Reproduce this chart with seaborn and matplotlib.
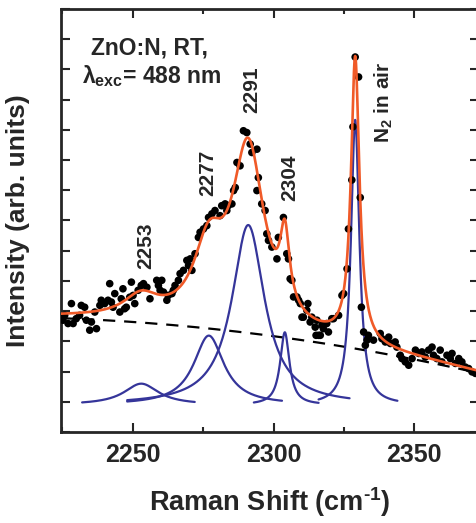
import numpy as np
import pandas as pd
import seaborn as sns
import matplotlib.pyplot as plt
from matplotlib.ticker import MultipleLocator, NullFormatter

# measured spectrum (Raman shift in cm-1, intensity in arb. units)
shift = [2225.8, 2225.2, 2227.0, 2228.2, 2228.8, 2229.9, 2231.1, 2231.7, 2232.9, 2233.5,
         2234.7, 2235.3, 2236.5, 2237.1, 2238.3, 2238.8, 2240.0, 2241.2, 2241.8, 2242.4,
         2243.0, 2243.6, 2245.4, 2245.9, 2246.5, 2247.1, 2247.7, 2248.9, 2249.5, 2250.1,
         2250.7, 2251.9, 2253.0, 2253.8, 2255.0, 2256.1, 2258.5, 2259.1, 2259.7, 2260.3,
         2260.9, 2262.1, 2262.6, 2263.9, 2264.4, 2265.0, 2266.2, 2266.8, 2268.0, 2269.2,
         2269.8, 2270.4, 2271.0, 2272.1, 2273.3, 2273.9, 2275.1, 2276.3, 2276.9, 2278.1,
         2279.2, 2281.0, 2281.6, 2282.8, 2283.4, 2283.9, 2285.2, 2285.8, 2286.4, 2287.0,
         2288.1, 2289.3, 2290.5, 2291.7, 2292.3, 2294.1, 2294.1, 2294.6, 2295.8, 2297.0,
         2297.6, 2298.2, 2299.4, 2301.2, 2301.7, 2303.5, 2304.7, 2305.3, 2305.9, 2306.5,
         2307.1, 2308.3, 2308.9, 2309.5, 2310.1, 2310.6, 2311.8, 2312.2, 2313.0, 2313.6,
         2314.8, 2315.1, 2315.4, 2316.0, 2316.6, 2317.2, 2317.7, 2318.9, 2319.5, 2320.7,
         2321.3, 2323.1, 2324.3, 2324.9, 2326.1, 2326.6, 2327.8, 2328.2, 2329.0, 2330.2,
         2330.8, 2331.2, 2332.0, 2332.6, 2333.2, 2333.7, 2335.5, 2337.9, 2338.5, 2339.7,
         2340.9, 2341.5, 2343.2, 2343.8, 2345.0, 2345.6, 2346.8, 2348.0, 2349.2, 2350.4,
         2351.6, 2352.7, 2353.9, 2355.1, 2356.3, 2356.8, 2358.0, 2359.2, 2359.8, 2361.6,
         2362.8, 2363.4, 2364.6, 2365.8, 2366.9, 2368.1, 2369.3, 2370.5, 2371.7]
intensity = [3.86, 3.70, 3.59, 4.25, 3.59, 3.75, 3.86, 4.19, 4.13, 3.70,
             3.37, 3.64, 3.97, 3.42, 4.19, 4.36, 4.25, 4.36, 4.91, 4.30,
             4.13, 4.58, 3.97, 4.41, 4.74, 4.08, 4.13, 4.46, 4.96, 4.52,
             4.25, 4.69, 4.85, 4.91, 4.79, 4.41, 5.02, 4.85, 4.69, 5.02,
             4.63, 4.36, 4.52, 4.58, 4.69, 4.85, 5.02, 5.24, 5.35, 5.68,
             5.51, 5.73, 5.35, 5.90, 6.44, 6.61, 6.72, 6.83, 7.10, 7.22,
             7.33, 7.16, 7.49, 7.55, 7.33, 7.49, 7.55, 7.99, 8.09, 8.92,
             8.81, 9.97, 9.91, 9.53, 9.25, 9.36, 7.99, 8.42, 7.55, 7.33,
             6.56, 6.34, 6.12, 5.73, 6.44, 7.10, 5.90, 5.73, 5.07, 5.02,
             4.47, 4.47, 4.36, 4.25, 3.80, 3.80, 4.03, 4.25, 3.64, 3.80,
             3.47, 3.20, 3.70, 3.20, 3.20, 3.53, 3.42, 3.59, 3.31, 3.75,
             3.75, 3.86, 4.52, 4.58, 5.40, 6.72, 8.34, 10.10, 12.41, 11.75,
             7.76, 4.13, 3.31, 2.87, 3.04, 3.20, 3.04, 3.26, 3.09, 2.98,
             3.14, 2.93, 2.98, 2.81, 2.54, 2.43, 2.32, 2.21, 2.43, 2.71,
             2.60, 2.65, 2.48, 2.71, 2.81, 2.54, 2.43, 2.71, 2.32, 2.54,
             2.43, 2.60, 2.27, 2.43, 2.32, 2.15, 2.10, 1.99, 1.94]

# Lorentzian fit components
peak_center = [2253, 2277, 2291, 2304, 2329]
peak_amp = [0.7, 2.29, 5.95, 2.4, 9.43]
peak_hwhm = [7.5, 6.5, 7.0, 2.0, 1.8]
peak_from = [2232, 2248, 2248, 2293, 2316]
peak_to = [2272, 2303, 2327, 2316, 2344]
comp_offset = 0.9

# background (quadratic in x - 2225)
bg_coef = [3.765, -0.003431, -5.976e-5]

peak_labels = ['2253', '2277', '2291', '2304', 'N$_{\\mathbf{2}}$ in air']
label_x = [2254.7, 2276.8, 2292.4, 2305.9, 2339.2]
label_y = [5.41, 7.82, 10.56, 7.66, 9.57]


def lorentz(x, c, a, g):
    return a * g ** 2 / ((x - c) ** 2 + g ** 2)


def background(x):
    t = x - 2225
    return bg_coef[0] + bg_coef[1] * t + bg_coef[2] * t ** 2


sns.set_theme(style='ticks')
plt.rcParams['font.family'] = ['Liberation Sans', 'DejaVu Sans']
plt.rcParams['font.weight'] = 'bold'
plt.rcParams['mathtext.fontset'] = 'custom'
plt.rcParams['mathtext.rm'] = 'Liberation Sans:bold'
plt.rcParams['mathtext.bf'] = 'Liberation Sans:bold'

fig = plt.figure(figsize=(4.77, 5.23), dpi=100)
ax = fig.add_axes([0.1279, 0.174, 0.877, 0.8088])

xs = np.linspace(2224, 2374, 3001)
fit = background(xs)
for c, a, g in zip(peak_center, peak_amp, peak_hwhm):
    fit = fit + lorentz(xs, c, a, g)

sns.lineplot(x=xs, y=background(xs), ax=ax, color='black', lw=1.6,
             linestyle=(0, (5.5, 4)))

for c, a, g, x0, x1 in zip(peak_center, peak_amp, peak_hwhm, peak_from, peak_to):
    xc = np.linspace(x0, x1, 400)
    sns.lineplot(x=xc, y=comp_offset + lorentz(xc, c, a, g), ax=ax,
                 color='#35359a', lw=1.6)

df = pd.DataFrame({'shift': shift, 'intensity': intensity})
sns.scatterplot(data=df, x='shift', y='intensity', ax=ax, color='black',
                s=30, edgecolor='none', zorder=3)

sns.lineplot(x=xs, y=fit, ax=ax, color='#f05a28', lw=1.9, zorder=4)

for txt, tx, ty in zip(peak_labels, label_x, label_y):
    ax.text(tx, ty, txt, rotation=90, ha='center', va='bottom',
            fontsize=15, fontweight='bold')

ax.text(2235.2, 12.5, 'ZnO:N, RT,', fontsize=16.5, fontweight='bold')
ax.text(2231.9, 11.55, 'λ$_{\\mathbf{exc}}$= 488 nm', fontsize=16.5, fontweight='bold')

ax.set_xlim(2224.5, 2373.1)
ax.set_ylim(0, 14)
ax.xaxis.set_major_locator(MultipleLocator(50))
ax.xaxis.set_minor_locator(MultipleLocator(25))
ax.yaxis.set_major_locator(MultipleLocator(1))
ax.yaxis.set_major_formatter(NullFormatter())
ax.tick_params(which='both', direction='in', top=True, right=True, width=1.5)
ax.tick_params(which='major', length=6.5, labelsize=18, pad=8)
ax.tick_params(which='minor', length=3.6)
for lab in ax.get_xticklabels():
    lab.set_fontweight('bold')
for sp in ax.spines.values():
    sp.set_linewidth(2.0)

ax.set_xlabel('Raman Shift (cm$^{\\mathbf{\u2010}\\mathbf{1}}$)', fontsize=19.5,
              fontweight='bold', labelpad=13)
ax.set_ylabel('Intensity (arb. units)', fontsize=19, fontweight='bold', labelpad=14)

plt.savefig('out.png', dpi=100)
